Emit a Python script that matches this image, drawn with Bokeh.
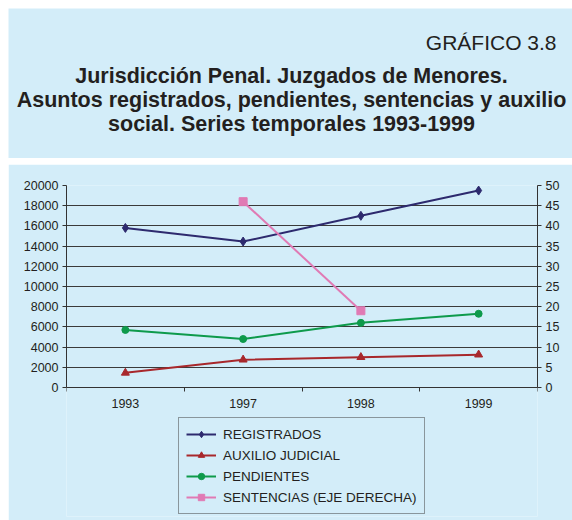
from bokeh.plotting import figure
from bokeh.models import (Range1d, LinearAxis, FixedTicker, Legend, LegendItem)
from bokeh.layouts import column
from bokeh.embed import file_html
from bokeh.resources import INLINE
from bokeh.core.properties import value

# ---- data ----
years = ["1993", "1997", "1998", "1999"]
registrados = [15800, 14450, 17000, 19500]
auxilio = [1450, 2750, 3000, 3250]
pendientes = [5700, 4800, 6400, 7300]
sent_years = ["1997", "1998"]
sentencias = [46, 19]
left_max = 20000
right_max = 50
left_ticks = list(range(0, left_max + 1, 2000))
right_ticks = list(range(0, right_max + 1, 5))

header_label = "GRÁFICO 3.8"
title_lines = ["Jurisdicción Penal. Juzgados de Menores.",
               "Asuntos registrados, pendientes, sentencias y auxilio",
               "social. Series temporales 1993-1999"]
legend_labels = ["REGISTRADOS", "AUXILIO JUDICIAL", "PENDIENTES",
                 "SENTENCIAS (EJE DERECHA)"]

BG = "#d3edf9"
TXT = "#231f20"
FONT = "Liberation Sans"
C_REG = "#2d2a6e"
C_AUX = "#a8282c"
C_PEN = "#0e9a4b"
C_SEN = "#e07ab4"

# ---- header panel ----
W = 564
HH = 150
hdr = figure(width=W, height=HH, output_backend="svg", toolbar_location=None,
             x_range=Range1d(0, W), y_range=Range1d(HH, 0),
             min_border=0, outline_line_color=None,
             x_axis_location=None, y_axis_location=None,
             background_fill_color=BG, border_fill_color=BG,
             margin=(8, 0, 0, 8))
hdr.frame_align = False
hdr.grid.visible = False
hdr.text(x=[548], y=[34], text=[header_label], text_align="right",
         text_baseline="alphabetic", text_font=value(FONT),
         text_font_size="21px", text_color=TXT)
hdr.text(x=[283, 283, 283], y=[67, 91, 115.5], text=title_lines,
         text_align="center", text_baseline="alphabetic",
         text_font=value(FONT), text_font_style="bold",
         text_font_size="21.5px", text_color=TXT)

# ---- chart panel ----
pos = {y: i + 0.5 for i, y in enumerate(years)}
xs = [pos[y] for y in years]
xs_sent = [pos[y] for y in sent_years]

H = 356
TOP = 21          # frame top (px)
DATA_H = 202      # px between value 0 and max
BOTTOM = 4        # border under frame (px)
extra = H - TOP - BOTTOM - DATA_H   # frame space under zero, used for legend
lo_left = -extra / DATA_H * left_max
lo_right = -extra / DATA_H * right_max

p = figure(width=W, height=H, output_backend="svg", toolbar_location=None,
           x_range=Range1d(0, len(years)), y_range=Range1d(lo_left, left_max),
           min_border_left=58, min_border_right=35, min_border_top=TOP,
           min_border_bottom=BOTTOM,
           outline_line_color=None,
           background_fill_color=BG, border_fill_color=BG,
           x_axis_location=None, y_axis_location=None,
           margin=(0, 0, 0, 8))
p.frame_align = False
p.extra_y_ranges = {"right": Range1d(lo_right, right_max)}

# axes
xaxis = LinearAxis(ticker=FixedTicker(ticks=xs, minor_ticks=list(range(len(years) + 1))),
                   fixed_location=0)
xaxis.major_label_overrides = {x: y for x, y in zip(xs, years)}
xaxis.major_tick_out = 0
xaxis.major_tick_in = 0
xaxis.minor_tick_out = 4
xaxis.minor_tick_in = 0
xaxis.minor_tick_line_color = "#333333"
xaxis.major_label_standoff = 7
p.add_layout(xaxis, "below")

yaxis = LinearAxis(ticker=FixedTicker(ticks=left_ticks), bounds=(0, left_max))
yaxis.major_tick_out = 4
yaxis.major_tick_in = 0
yaxis.minor_tick_line_color = None
yaxis.major_label_standoff = 4
p.add_layout(yaxis, "left")

raxis = LinearAxis(y_range_name="right", ticker=FixedTicker(ticks=right_ticks),
                   bounds=(0, right_max))
raxis.major_tick_out = 4
raxis.major_tick_in = 0
raxis.minor_tick_line_color = None
raxis.major_label_standoff = 4
p.add_layout(raxis, "right")

for ax in (xaxis, yaxis, raxis):
    ax.major_label_text_font = FONT
    ax.major_label_text_font_size = "12.5px"
    ax.major_label_text_color = TXT
    ax.axis_line_color = "#333333"
    ax.major_tick_line_color = "#333333"

p.ygrid.ticker = FixedTicker(ticks=left_ticks)
p.ygrid.grid_line_color = "#3a3a3a"
p.ygrid.grid_line_width = 1
p.xgrid.visible = False

# series
l1 = p.line(xs, registrados, line_color=C_REG, line_width=2)
m1 = p.scatter(xs, registrados, marker="diamond", size=9, color=C_REG)
l2 = p.line(xs, auxilio, line_color=C_AUX, line_width=2)
m2 = p.scatter(xs, auxilio, marker="triangle", size=8, color=C_AUX)
l3 = p.line(xs, pendientes, line_color=C_PEN, line_width=2)
m3 = p.scatter(xs, pendientes, marker="circle", size=7, color=C_PEN)
l4 = p.line(xs_sent, sentencias, line_color=C_SEN, line_width=2, y_range_name="right")
m4 = p.scatter(xs_sent, sentencias, marker="square", size=8, color=C_SEN, y_range_name="right")

legend = Legend(items=[
    LegendItem(label=legend_labels[0], renderers=[l1, m1]),
    LegendItem(label=legend_labels[1], renderers=[l2, m2]),
    LegendItem(label=legend_labels[2], renderers=[l3, m3]),
    LegendItem(label=legend_labels[3], renderers=[l4, m4]),
], location=(112, 2))
legend.label_text_font = FONT
legend.label_text_font_size = "13.5px"
legend.label_text_color = TXT
legend.label_height = 18
legend.glyph_height = 16
legend.glyph_width = 30
legend.label_standoff = 7
legend.spacing = 3
legend.padding = 7
legend.margin = 0
legend.border_line_color = "#404040"
legend.border_line_width = 1
legend.background_fill_color = BG
legend.background_fill_alpha = 1
p.add_layout(legend, "center")

layout = column(hdr, p, spacing=6)
open("out.html", "w").write(file_html(layout, INLINE))
